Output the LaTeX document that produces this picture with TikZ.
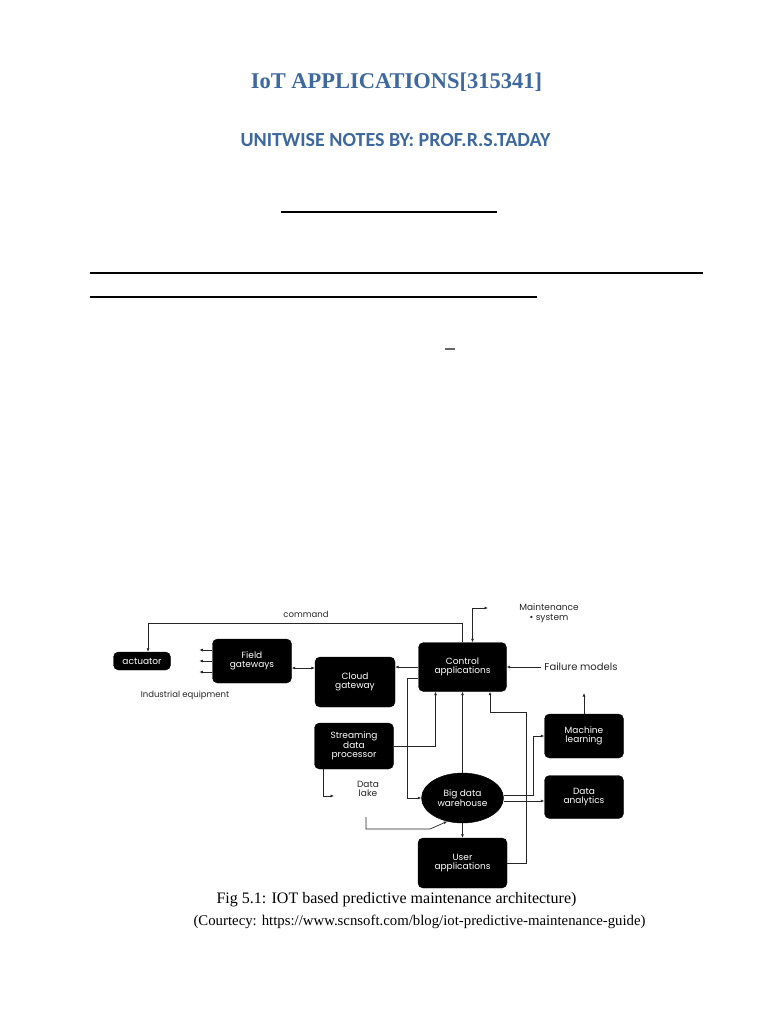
\documentclass[tikz,border=0pt]{standalone}
\usepackage{fontspec}
\setmainfont{Liberation Serif}
\newfontfamily\calfont{Carlito}
\newfontfamily\popfont{Poppins}
\usetikzlibrary{arrows.meta}
\usetikzlibrary{calc}
\usetikzlibrary{shapes.geometric}
\definecolor{headblue}{RGB}{61,104,160}

\begin{document}
\begin{tikzpicture}[x=1pt, y=-1pt, >={Latex[length=3.5pt,width=3pt]},
  main/.style = {draw=black, fill=black, rounded corners=5pt, text=white, align=center, inner sep=1pt, font=\popfont\fontsize{9}{9.5}\selectfont},
  lbl/.style = {align=center, text=black!85, font=\popfont\fontsize{8.5}{9}\selectfont},
  wire/.style = {line width=0.7pt, draw=black!85}]
\useasboundingbox[fill=white] (0,0) rectangle (768,1024);

% page heading
\node[text=headblue, font=\bfseries\fontsize{22.5}{26}\selectfont] (t) at (396.5,82) {IoT APPLICATIONS[315341]};
\node[text=headblue, font=\calfont\bfseries\fontsize{20}{24}\selectfont] (s) at (395.5,140) {UNITWISE NOTES BY: PROF.R.S.TADAY};
\draw[line width=2pt] (281,212) -- (497,212);
\draw[line width=1.4pt] (90,273) -- (703,273);
\draw[line width=2.6pt] (90,297) -- (537,297);
\draw[line width=1.4pt, black!60] (445,349) -- (455,349);

% boxes
\node[main, minimum width=57pt, minimum height=18pt] (1) at (142,661) {actuator};
\node[main, minimum width=79pt, minimum height=44pt] (2) at (252,661) {Field\\gateways};
\node[main, minimum width=80pt, minimum height=50pt] (3) at (355,682) {Cloud\\gateway};
\node[main, minimum width=88pt, minimum height=49pt] (4) at (462.5,667) {Control\\applications};
\node[main, minimum width=79pt, minimum height=46pt] (5) at (354,746) {Streaming\\data\\processor};
\node[main, ellipse, minimum width=82pt, minimum height=50pt, inner sep=0pt] (6) at (462.5,798) {Big data\\warehouse};
\node[main, minimum width=89pt, minimum height=50pt] (7) at (462.5,863) {User\\applications};
\node[main, minimum width=79pt, minimum height=44pt] (8) at (584,736) {Machine\\learning};
\node[main, minimum width=79pt, minimum height=43pt] (9) at (584,797) {Data\\analytics};

% free labels
\node[lbl] (cmd) at (306,614) {command};
\node[lbl] (ind) at (185,695) {Industrial equipment};
\node[lbl, font=\popfont\fontsize{9}{10}\selectfont] (ms) at (549,613) {Maintenance\\\textbullet\ system};
\node[lbl, font=\popfont\fontsize{10}{11}\selectfont] (fm) at (581,667) {Failure models};
\node[lbl, font=\popfont\fontsize{9}{9.5}\selectfont] (dl) at (368,789) {Data\\lake};

\coordinate (m) at (488,608);
\coordinate (f) at (541,667);
\coordinate (u) at (526,712);
\coordinate (ml) at (584,693);
\coordinate (dl1) at (334,796);
\coordinate (dl2) at (366,817);

% connectors
\draw[wire, ->] (4.north) -- ++(0,-19) -| ([xshift=6pt]1.north);
\draw[wire, <->] ([xshift=10pt]4.north) |- (m);
\draw[wire, ->] (f) -- (4.east);
\draw[wire, ->] (4.west) -- (4.west -| 3.east);
\draw[wire, <->] ([yshift=-7pt]2.east) -- ([yshift=-7pt]2.east -| 3.west);
\foreach \d [count=\i] in {11,0,-11} {
  \coordinate (o\i) at ([yshift=\d pt, xshift=-13pt]2.west);
  \draw[wire, ->] (2.west |- o\i) -- (o\i);
}
\draw[wire, ->] (5.east) -| ([xshift=-27pt]4.south);
\draw[wire, ->] (6.north) -- (4.south);
\draw[wire, ->] (7.east) -| (u) -| ([xshift=27.5pt]4.south);
\draw[wire, ->] ([yshift=-11pt]4.west) -- ++(-11,0) |- (6.west);
\draw[wire, ->] ([yshift=3pt]6.east) -- ++(30,0) |- (8.west);
\draw[wire, ->] ([yshift=-3pt]6.east) -- ([yshift=-3pt]6.east -| 9.west);
\draw[wire, ->] (8.north) -- (ml);
\draw[wire, ->] (6.south) -- (7.north);
\draw[wire, ->] ([xshift=-31pt]5.south) |- (dl1);
\draw[wire, ->] (dl2) -- ++(0,12) -- ++(64,0) -- (6.237);

% caption
\node[anchor=west, font=\fontsize{16}{18}\selectfont] (c1) at (213,900) {Fig 5.1: IOT based predictive maintenance architecture)};
\node[anchor=west, font=\fontsize{14.8}{18}\selectfont] (c2) at (190,922) {(Courtecy: https://www.scnsoft.com/blog/iot-predictive-maintenance-guide)};
\end{tikzpicture}
\end{document}
